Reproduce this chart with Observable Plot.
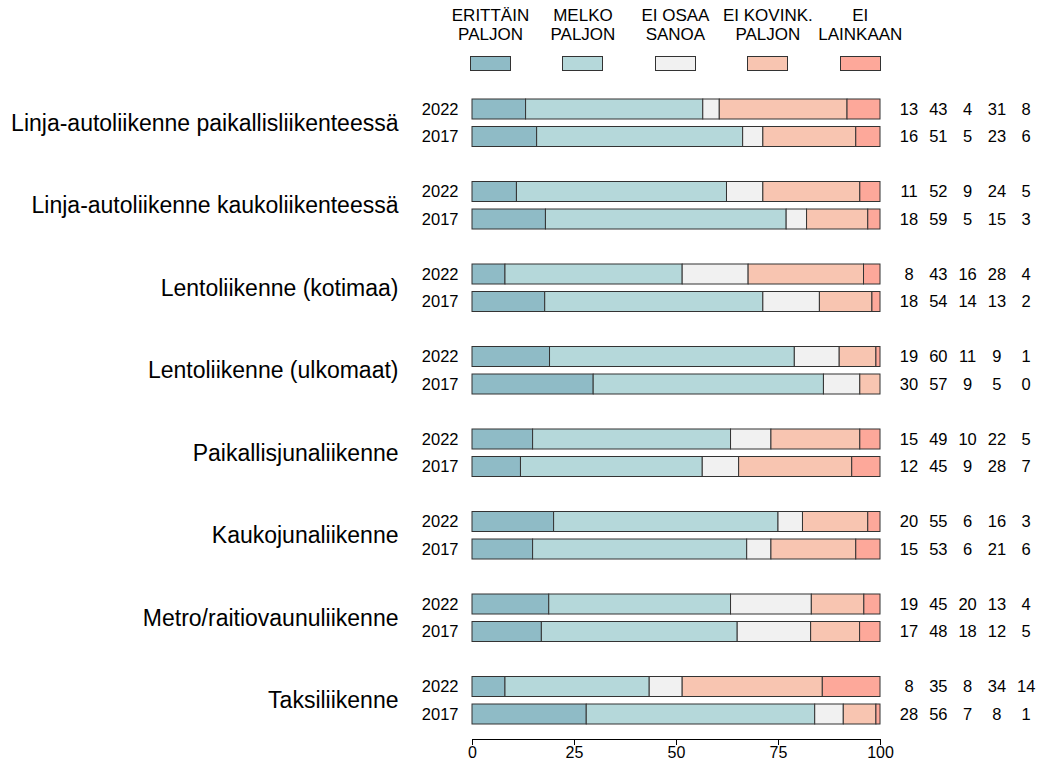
<!DOCTYPE html>
<html>
<head>
<meta charset="utf-8">
<script src="https://cdn.jsdelivr.net/npm/d3@7"></script>
<script src="https://cdn.jsdelivr.net/npm/@observablehq/plot@0.6"></script>
<style>
  html, body { margin: 0; padding: 0; background: white; }
  body { font-family: "Liberation Sans", Arial, sans-serif; color: #000; width: 1042px; }
  #legend { position: relative; width: 1042px; height: 80px; }
  .lg-text { position: absolute; top: 6px; width: 110px; text-align: center; font-size: 17px; line-height: 19.3px; white-space: nowrap; }
  .lg-sw { position: absolute; top: 56px; width: 41px; height: 15px; box-sizing: border-box; border: 1px solid #333; }
</style>
</head>
<body>
<div id="legend"></div>
<div id="chart"></div>
<script>
const categories = [
  "Linja-autoliikenne paikallisliikenteessä",
  "Linja-autoliikenne kaukoliikenteessä",
  "Lentoliikenne (kotimaa)",
  "Lentoliikenne (ulkomaat)",
  "Paikallisjunaliikenne",
  "Kaukojunaliikenne",
  "Metro/raitiovaunuliikenne",
  "Taksiliikenne"
];
const years = ["2022", "2017"];
const responses = ["ERITTÄIN PALJON", "MELKO PALJON", "EI OSAA SANOA", "EI KOVINK. PALJON", "EI LAINKAAN"];
const legendLines = [["ERITTÄIN", "PALJON"], ["MELKO", "PALJON"], ["EI OSAA", "SANOA"], ["EI KOVINK.", "PALJON"], ["EI", "LAINKAAN"]];
const colors = ["#8fbbc6", "#b5d8da", "#f1f1f1", "#f8c5b1", "#fda89a"];
const values2022 = [
  [13, 43, 4, 31, 8],
  [11, 52, 9, 24, 5],
  [8, 43, 16, 28, 4],
  [19, 60, 11, 9, 1],
  [15, 49, 10, 22, 5],
  [20, 55, 6, 16, 3],
  [19, 45, 20, 13, 4],
  [8, 35, 8, 34, 14]
];
const values2017 = [
  [16, 51, 5, 23, 6],
  [18, 59, 5, 15, 3],
  [18, 54, 14, 13, 2],
  [30, 57, 9, 5, 0],
  [12, 45, 9, 28, 7],
  [15, 53, 6, 21, 6],
  [17, 48, 18, 12, 5],
  [28, 56, 7, 8, 1]
];
const xTicks = [0, 25, 50, 75, 100];

// Build table
const rows = [];
const rowInfo = [];
const keys = [];
categories.forEach((c, i) => {
  years.forEach((yr, j) => {
    const key = `${i}|${yr}`;
    keys.push(key);
    const vals = j === 0 ? values2022[i] : values2017[i];
    rowInfo.push({cat: c, key, year: yr, first: j === 0, vals});
    responses.forEach((r, k) => rows.push({cat: c, key, year: yr, response: r, value: vals[k]}));
  });
  if (i < categories.length - 1) keys.push(`${i}|gap`);
});

// Legend (HTML)
const legend = document.getElementById("legend");
responses.forEach((r, k) => {
  const cx = 490.5 + 92.45 * k;
  const t = document.createElement("div");
  t.className = "lg-text";
  t.style.left = (cx - 55) + "px";
  t.innerHTML = legendLines[k].join("<br>");
  legend.appendChild(t);
  const s = document.createElement("div");
  s.className = "lg-sw";
  s.style.left = (cx - 20.5) + "px";
  s.style.background = colors[k];
  legend.appendChild(s);
});

const H = 684;
const marks = [
  Plot.barX(rows, Plot.stackX({
    x: "value", y: "key", fill: "response", offset: "normalize",
    stroke: "#333", strokeWidth: 1, insetTop: 3.75, insetBottom: 3.75
  })),
  Plot.text(rowInfo, {y: "key", text: "year", frameAnchor: "left", dx: -14, textAnchor: "end", fontSize: 16.5, fill: "#000"}),
  Plot.text(rowInfo.filter(d => d.first), {y: "key", text: "cat", frameAnchor: "left", dx: -74, dy: 13.75, textAnchor: "end", fontSize: 23, fill: "#000"})
];
responses.forEach((r, k) => {
  marks.push(Plot.text(rowInfo, {y: "key", text: d => String(d.vals[k]), frameAnchor: "right", dx: 28.5 + 29.3 * k, textAnchor: "middle", fontSize: 16.5, fill: "#000"}));
});
marks.push(Plot.frame({anchor: "bottom", stroke: "#000"}));

const chart = Plot.plot({
  width: 1042,
  height: H,
  marginLeft: 472,
  marginRight: 162,
  marginTop: 15.25,
  marginBottom: H - 659,
  insetBottom: 11.25,
  style: {fontFamily: "Liberation Sans, Arial, sans-serif", fontSize: "16px", color: "#000", background: "white", overflow: "visible"},
  x: {domain: [0, 1], ticks: xTicks.map(d => d / 100), tickFormat: d => String(Math.round(d * 100)), tickSize: 6, tickPadding: 1, label: null},
  y: {domain: keys, axis: null, padding: 0, round: false},
  color: {domain: responses, range: colors},
  marks
});
document.getElementById("chart").appendChild(chart);
</script>
</body>
</html>
